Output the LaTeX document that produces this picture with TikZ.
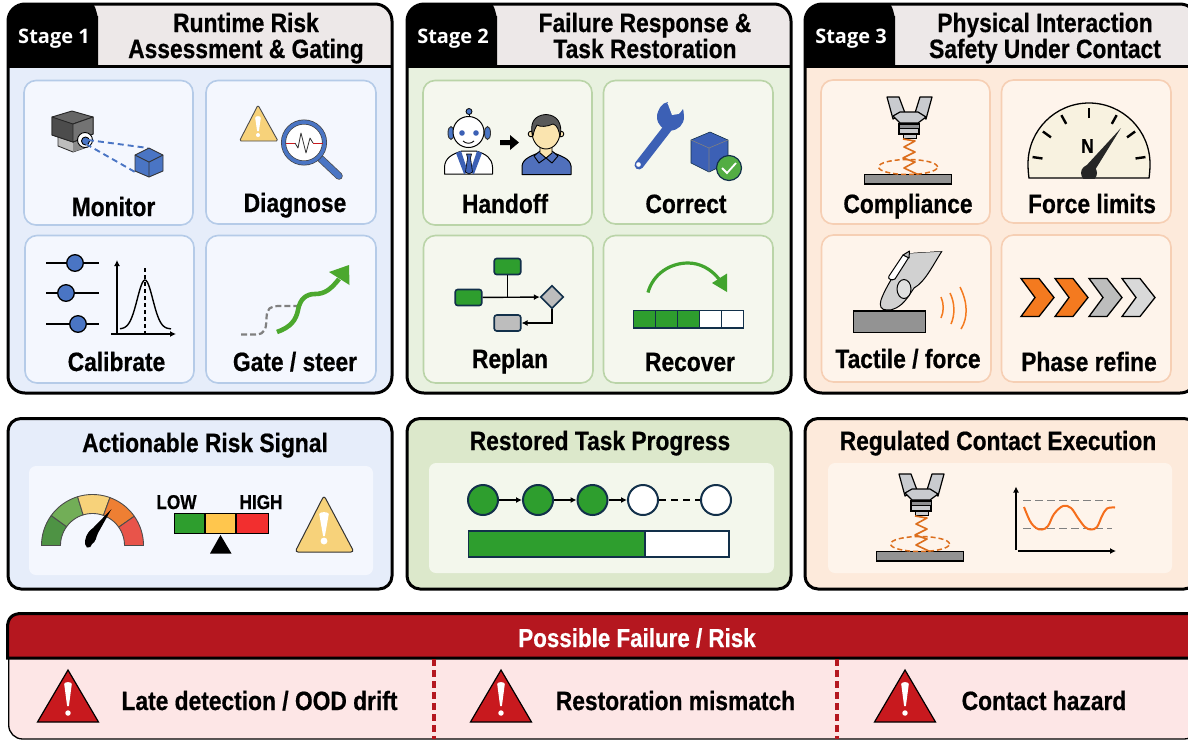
\documentclass[tikz,border=0pt]{standalone}
\usepackage{fontspec}
\setmainfont{Liberation Sans}[BoldFeatures={FakeStretch=0.86,FakeBold=0.55}]
\newfontfamily\stagefont{Open Sans}
\usetikzlibrary{arrows.meta,calc,shapes.geometric}
\definecolor{pblue}{HTML}{E6EDFA}\definecolor{cblue}{HTML}{F4F7FE}\definecolor{bblue}{HTML}{B5CBE8}
\definecolor{pgreen}{HTML}{E8F1DF}\definecolor{cgreen}{HTML}{F5F7EE}\definecolor{bgreen}{HTML}{BAD4A8}
\definecolor{porange}{HTML}{FDEADB}\definecolor{corange}{HTML}{FEF4EB}\definecolor{borange}{HTML}{F6CFB4}
\definecolor{mgreen}{HTML}{DCE8CB}\definecolor{igreen}{HTML}{F3F7EC}
\definecolor{hdr}{HTML}{EDE8E8}\definecolor{dred}{HTML}{B5171F}\definecolor{lred}{HTML}{FDE6E6}\definecolor{tred}{HTML}{C8191E}
\definecolor{ublue}{HTML}{4A75C4}\definecolor{wblue}{HTML}{3C60B5}\definecolor{ugreen}{HTML}{2E9E2E}\definecolor{agreen}{HTML}{4CA82E}
\definecolor{warn}{HTML}{F7D27A}\definecolor{navy}{HTML}{12304A}\definecolor{uorange}{HTML}{F47A1F}\definecolor{sgray}{HTML}{BDBDBD}
\definecolor{grip}{HTML}{C9CBCF}\definecolor{plate}{HTML}{939393}\definecolor{dial}{HTML}{F8F2E0}
\tikzset{
 lbl/.style={font=\fontsize{26.5}{28}\selectfont\bfseries,anchor=base,inner sep=0pt,text=black},
 ttl/.style={font=\fontsize{26.5}{28}\selectfont\bfseries,anchor=base,inner sep=0pt,text=black},
 stg/.style={font=\fontsize{20}{22}\selectfont\stagefont\bfseries,text=white,inner sep=0pt,anchor=base},
 card/.style={rounded corners=12pt,line width=1.6pt},
 flowbox/.style={draw=navy,line width=1.6pt,rounded corners=2.5pt,minimum width=26pt,minimum height=16pt,inner sep=0pt},
 stepdot/.style={circle,draw=navy,line width=2pt,minimum size=30pt,inner sep=0pt},
 flowarrow/.style={-{Latex[length=6pt,width=6pt]},line width=1.4pt,black},
}
\newcommand{\stagepanel}[7]{% x, width, num, line1, line2, fill, title offset
 \fill[#6,rounded corners=17pt] (#1,4) rectangle ++(#2,389);
 \begin{scope}
  \clip[rounded corners=17pt] (#1,4) rectangle ++(#2,389);
  \fill[hdr] (#1,4) rectangle ++(#2,62);
  \fill[black] (#1,2) -- ($(#1,2)+(82,0)$) to[out=0,in=-90] ($(#1,2)+(90,14)$) -- ($(#1,2)+(90,64)$) -- ($(#1,2)+(0,64)$) -- cycle;
 \end{scope}
 \draw[black,line width=3pt] (#1,66) -- ++(#2,0);
 \draw[black,line width=3pt,rounded corners=17pt] (#1,4) rectangle ++(#2,389);
 \node[stg] (stage#3) at ($(#1,43.5)+(46,0)$) {Stage #3};
 \node[ttl] (title#3a) at ($(#1,32)+(#7,0)$) {#4};
 \node[ttl] (title#3b) at ($(#1,58)+(#7,0)$) {#5};
}
\newcommand{\cardbox}[6]{\draw[card,draw=#6,fill=#5] (#1,#2) rectangle (#3,#4);}
\newcommand{\excl}[5]{% x, top, bottom of bar, dot y, halfwidth; white
 \fill[white] (#1-#5,#2+1) .. controls (#1-#5,#2-1.5) and (#1+#5,#2-1.5) .. (#1+#5,#2+1) -- (#1+.9,#3) -- (#1-.9,#3) -- cycle;
 \fill[white] (#1,#4) circle ({#5*.72});
}
\newcommand{\contacticon}[2]{%
 \begin{scope}[shift={(#1,#2)}]
  \draw[black,line width=1.2pt,fill=grip,line join=round] (887,97) -- (899,97) -- (905,113) -- (893,119) -- cycle;
  \draw[black,line width=1.2pt,fill=grip,line join=round] (932,97) -- (920,97) -- (915,113) -- (926,119) -- cycle;
  \draw[black,line width=1.2pt,fill=grip,line join=round] (893,116) -- (900,112) -- (918,112) -- (926,117) -- (918,123) -- (900,123) -- cycle;
  \draw[black,line width=1.2pt,fill=grip] (899,124) rectangle (919,134);
  \draw[black,line width=1pt,fill=grip!70!black] (899,124) rectangle (919,128);
  \draw[black,line width=1pt,fill=grip] (903,134) rectangle (916,138);
  \draw[black,line width=1.2pt,fill=plate] (864.5,174.5) rectangle (951.5,184);
  \draw[uorange!90!black,line width=1.5pt,dash pattern=on 5pt off 3pt] (908,167) ellipse (29.5pt and 7.5pt);
  \draw[uorange!90!black,line width=1.6pt,line join=round] (903,139) -- (915,141) -- (904,147) -- (915,152) -- (903,158) -- (915,162) -- (904,168) -- (918,174.5);
 \end{scope}}
\begin{document}
\begin{tikzpicture}[x=1pt,y=-1pt,line cap=butt]
\useasboundingbox (0,0) rectangle (1188,740);
\clip (0,0) rectangle (1188,740);
\fill[white] (0,0) rectangle (1188,740);
% ===== stage panels
\stagepanel{8}{384}{1}{Runtime Risk}{Assessment \& Gating}{pblue}{238}
\stagepanel{407}{384}{2}{Failure Response \&}{Task Restoration}{pgreen}{238}
\stagepanel{805}{392}{3}{Physical Interaction}{Safety Under Contact}{porange}{240}
% cards
\cardbox{24}{80.5}{193}{225}{cblue}{bblue}\cardbox{206}{80.5}{376}{224}{cblue}{bblue}
\cardbox{25}{235.5}{194}{383}{cblue}{bblue}\cardbox{206}{235.5}{376}{383}{cblue}{bblue}
\cardbox{423}{80.5}{592}{225}{cgreen}{bgreen}\cardbox{603.5}{80.5}{773}{224}{cgreen}{bgreen}
\cardbox{423.5}{235.5}{593}{383}{cgreen}{bgreen}\cardbox{603.5}{235.5}{773}{383}{cgreen}{bgreen}
\cardbox{821}{80}{990}{224}{corange}{borange}\cardbox{1001.5}{80}{1171}{223}{corange}{borange}
\cardbox{821.5}{235}{991}{382}{corange}{borange}\cardbox{1001.5}{235}{1171}{382}{corange}{borange}
% card labels
\node[lbl] (monitor) at (113.5,216) {Monitor};
\node[lbl] (diagnose) at (295,212) {Diagnose};
\node[lbl] (calibrate) at (116.5,371) {Calibrate};
\node[lbl] (gate) at (295,371) {Gate / steer};
\node[lbl] (handoff) at (505,213) {Handoff};
\node[lbl] (correct) at (686,213) {Correct};
\node[lbl] (replan) at (510,368) {Replan};
\node[lbl] (recover) at (690,371) {Recover};
\node[lbl] (compliance) at (908,213) {Compliance};
\node[lbl] (forcelimits) at (1092,213) {Force limits};
\node[lbl] (tactile) at (908,368) {Tactile / force};
\node[lbl] (phaserefine) at (1089,371) {Phase refine};
% ----- Monitor
\draw[black!80,line width=.9pt,fill=sgray] (58,135) -- (58,146) -- (73,152) -- (90,146) -- (90,135) -- cycle;
\fill[black!45,line join=round] (73,140) -- (73,152) -- (90,146) -- (90,135) -- cycle;
\draw[black!85,line width=.9pt,fill=black!60,line join=round] (52,117) -- (72,111) -- (93,117) -- (93,134) -- (73,142) -- (52,135) -- cycle;
\draw[black!85,line width=.9pt,fill=black!70,line join=round] (52,117) -- (73,124) -- (93,117) -- (93,134) -- (73,142) -- (52,135) -- cycle;
\draw[black!85,line width=.9pt,fill=black!55,line join=round] (73,124) -- (93,117) -- (93,134) -- (73,142) -- cycle;
\draw[black,line width=.9pt,fill=white] (85,140) circle (7.5pt);
\draw[black,line width=.9pt,fill=ublue] (85.5,141) circle (4pt);
\draw[ublue,line width=1.9pt,dash pattern=on 6pt off 4pt] (88,140) -- (148,148);
\draw[ublue,line width=1.9pt,dash pattern=on 6pt off 4pt] (86,144) -- (135,172);
\draw[black!80,line width=.9pt,fill=ublue,line join=round] (135,155) -- (149,148) -- (163,155) -- (163,171) -- (149,177) -- (135,171) -- cycle;
\draw[black!80,line width=.9pt] (135,155) -- (149,162) -- (163,155) (149,162) -- (149,177);
% ----- Diagnose
\draw[black!70,line width=.9pt,fill=warn,line join=round,rounded corners=1.5pt] (258,105) -- (278,141) -- (239.5,141) -- cycle;
\excl{258}{117}{131}{135}{2.8}
\draw[black!70,line width=7.5pt,line cap=round] (321,159) -- (339,176);
\draw[ublue,line width=6pt,line cap=round] (321,159) -- (339,176);
\draw[black!75,line width=5pt,fill=white] (304,142.5) circle (20.5pt);
\draw[ublue,line width=3.6pt] (304,142.5) circle (20.5pt);
\draw[tred,line width=.9pt] (286,143) -- (295,143) (313,143) -- (323,143);
\draw[black!80,line width=.8pt,line join=round] (295,143) -- (298,148) -- (301,133) -- (306,153) -- (310,138) -- (313,143);
% ----- Calibrate
\foreach \yy/\xx in {263/75,293/66,324/78}{
 \draw[black,line width=1.4pt] (46,\yy) -- (99,\yy);
 \draw[black,line width=1.3pt,fill=ublue] (\xx,\yy) circle (8.3pt);
}
\draw[black,line width=1.4pt,-{Latex[length=6pt,width=6pt]}] (117,334) -- (117,260);
\draw[black,line width=1.4pt,-{Latex[length=6pt,width=6pt]}] (111,334) -- (176,334);
\draw[black,line width=1.4pt] plot[domain=120:171,samples=40,smooth] (\x,{329-49*exp(-((\x-145)/11)^2)});
\draw[black,line width=1.4pt,dash pattern=on 4pt off 3pt] (145,268) -- (145,334);
% ----- Gate
\draw[black!50,line width=2.2pt,dash pattern=on 6pt off 3pt] (241,334.5) -- (255,334.5) .. controls (266,334.5) and (266,328) .. (266.5,318) .. controls (267,308) and (270,306) .. (280,306) -- (298,306);
\draw[agreen,line width=4.6pt] (277,332) .. controls (291,327) and (296,320) .. (298,310) .. controls (300,299) and (306,294) .. (315,294) .. controls (325,294) and (331,289) .. (339,279);
\fill[agreen] (329,272) -- (349,265) -- (349.5,285) -- cycle;
% ----- Handoff
\draw[black!80,line width=.9pt,fill=ublue] (451,133) ellipse (3pt and 6.5pt);
\draw[black!80,line width=.9pt,fill=ublue] (487.5,133) ellipse (3pt and 6.5pt);
\draw[black,line width=.9pt] (469,113) -- (469,118);
\draw[black,line width=.8pt,fill=ublue] (469,111.5) circle (3pt);
\draw[black,line width=1pt,fill=white,line join=round] (444.5,174) -- (444.5,167) .. controls (445,158) and (452,154) .. (462,151) -- (476,151) .. controls (486,154) and (492,158) .. (492.5,167) -- (492.5,174) -- cycle;
\fill[wblue] (456,153) -- (461,151) -- (468,172) -- (464,174) -- cycle;
\fill[wblue] (482,153) -- (477,151) -- (470,172) -- (474,174) -- cycle;
\draw[black,line width=.6pt,fill=wblue,line join=round] (466.5,154) -- (471.5,154) -- (470.5,158) -- (472.5,172) -- (469,174) -- (465.5,172) -- (467.5,158) -- cycle;
\draw[black,line width=1pt,fill=white] (468.5,132) circle (15.5pt);
\fill[wblue] (462,133) circle (2.8pt) (476,133) circle (2.8pt);
\draw[black,line width=.9pt] (463,141) .. controls (466,144) and (471,144) .. (474,141);
\fill[black] (500,140) -- (510,140) -- (510,135) -- (519,142.5) -- (510,150) -- (510,145) -- (500,145) -- cycle;
\draw[black,line width=1pt,fill=wblue!90!white,line join=round] (522,174.5) -- (522,166) .. controls (523,158) and (532,156) .. (540,152) -- (552,152) .. controls (560,156) and (570,158) .. (571,166) -- (571,174.5) -- cycle;
\draw[black,line width=.9pt,fill=wblue!90!white,line join=round] (540,151) -- (546,158) -- (552,151) -- (558,156) -- (552,163) -- (546,158) -- (539,163) -- (534,156) -- cycle;
\draw[black,line width=.9pt,fill=warn!60!white] (540,145) -- (540,153) -- (546,158) -- (552,153) -- (552,145) -- cycle;
\draw[black,line width=.9pt,fill=warn!60!white] (531,134) circle (2.8pt) (561,134) circle (2.8pt);
\draw[black,line width=.9pt,fill=warn!60!white] (546,132) ellipse (14pt and 17pt);
\draw[black,line width=.8pt,fill=black!65,line join=round] (533,136) .. controls (529,124) and (534,115) .. (546,114.5) .. controls (557,115) and (563,123) .. (560,137) .. controls (559,130) and (557,125) .. (553,124) .. controls (547,127) and (540,127) .. (537,125) .. controls (535,128) and (534,131) .. (533,136) -- cycle;
% ----- Correct
\draw[wblue,line width=9pt,line cap=round] (639,165) -- (670,125);
\fill[wblue] (670.5,117) circle (13.5pt);
\fill[cgreen] (672,115) -- (666,99) -- (690,105) -- (685,113) -- cycle;
\fill[wblue] (657,118) .. controls (658,108) and (662,103) .. (668,102) .. controls (665,107) and (665,112) .. (671,117) -- (663,128) -- cycle;
\fill[wblue] (672,117) .. controls (677,116) and (680,114) .. (683,109) .. controls (686,118) and (680,128) .. (670,129) -- cycle;
\draw[white,line width=.1pt,fill=white] (638.5,164.5) circle (2.2pt);
\draw[navy,line width=.6pt,fill=wblue,line join=round] (691,140) -- (710,132) -- (728,140) -- (728,163) -- (709,172) -- (691,163) -- cycle;
\draw[black!50,line width=.6pt] (691,140) -- (709,148) -- (728,140) (709,148) -- (709,172);
\draw[navy,line width=1.2pt,fill=agreen!60!ugreen!90!white] (729,168) circle (12.5pt);
\draw[white,line width=1.8pt] (722,168) -- (727,173) -- (736,163);
% ----- Replan
\node[flowbox,fill=ugreen,minimum width=26.5pt] (rp1) at (507.5,266.5) {};
\node[flowbox,fill=ugreen,minimum width=26.5pt] (rp2) at (468.5,297.5) {};
\node[diamond,draw=navy,line width=1.6pt,fill=sgray,minimum size=23pt,inner sep=0pt] (rp3) at (552,297) {};
\node[flowbox,fill=sgray,minimum width=26.5pt] (rp4) at (507.5,323) {};
\draw[flowarrow] (rp2) -- (rp3);
\draw[line width=1.4pt,black] (rp1) -- (rp1|-rp2);
\draw[flowarrow] (rp3) |- (rp4);
% ----- Recover
\draw[agreen!65!ugreen,line width=3.2pt] (648,292.5) .. controls (653,274) and (670,263) .. (688,263) .. controls (700,263) and (711,269) .. (719,279);
\fill[agreen!65!ugreen] (712,283) -- (727,273.5) -- (727,292) -- cycle;
\foreach \cx/\cc in {633.5/ugreen,655.5/ugreen,677.5/ugreen,699.5/white,721.5/white}{
 \draw[navy,line width=1.6pt,fill=\cc] (\cx,310.5) rectangle ++(22,17.5);
}
% ----- Compliance
\contacticon{0}{0}
% ----- Force limits
\draw[black,line width=1.3pt,fill=dial] (1029,178) .. controls (1029,178) and (1028,172) .. (1028,164) arc[x radius=61,y radius=-61,start angle=180,end angle=0] .. controls (1150,172) and (1149,178) .. (1149,178) -- cycle;
\foreach \a in {172,144,119,90,61,36,8}{
 \draw[black,line width=2.4pt] ({1089+47*cos(\a)},{165-47*sin(\a)}) -- ({1089+57*cos(\a)},{165-57*sin(\a)});
}
\node[font=\fontsize{20}{21}\selectfont\bfseries,inner sep=0pt] (fn) at (1087.5,146) {N};
\fill[black!85] (1085,167) -- (1121,128) -- (1095,170) -- cycle;
\begin{scope}
 \clip (1070,160) rectangle (1110,178);
 \fill[black!85] (1089,173) circle (8pt);
\end{scope}
% ----- Tactile
\draw[black,line width=1.3pt,fill=plate] (853.5,311) rectangle (925.5,332.5);
\draw[black,line width=1pt,fill=black!18,line join=round] (887,310) .. controls (881,310) and (879,306) .. (881,300) .. controls (886,286) and (897,270) .. (909,253) -- (942,251) .. controls (933,265) and (925,282) .. (914,288) .. controls (908,297) and (904,304) .. (896,308) .. controls (893,310) and (890,310) .. (887,310) -- cycle;
\fill[corange] (905,250) -- (946,248) -- (942,251) -- (909,253) -- cycle;
\draw[black,line width=1pt,fill=black!12] (904,289) ellipse (7pt and 9.5pt);
\draw[black,line width=1pt,fill=white,line join=round] (889,276) -- (903,255) -- (909,257) -- (895,279) .. controls (892,281) and (887,279) .. (889,276) -- cycle;
\draw[black,line width=1pt,fill=black!25,line join=round] (903,255) -- (909.5,251) -- (909,258) -- cycle;
\draw[uorange,line width=1.5pt] (941,297) .. controls (944,304) and (944,311) .. (941,318);
\draw[uorange,line width=1.5pt] (950,293) .. controls (955,303) and (955,315) .. (951,324);
\draw[uorange,line width=1.5pt] (960,287) .. controls (968,303) and (968,318) .. (961,329);
% ----- Phase refine
\foreach \dx/\cc in {0/uorange,34/uorange,68/sgray,101/black!15}{
 \draw[black,line width=1.3pt,fill=\cc,line join=miter,shift={(\dx,0)}] (1021,278.5) -- (1039,278.5) -- (1054,297.5) -- (1039,316.5) -- (1021,316.5) -- (1035,297.5) -- cycle;
}
% ===== outcome panels
\foreach \px/\pw/\pc/\ix/\iy/\iw/\ih/\ic in {8/384/pblue/29/466/344/109/cblue,407/384/mgreen/429/463/345/110/igreen,805/392/porange/828/463/344/110/corange}{
 \draw[black,line width=3pt,fill=\pc,rounded corners=13pt] (\px,418.5) rectangle ++(\pw,170.5);
 \fill[\ic,rounded corners=7pt] (\ix,\iy) rectangle ++(\iw,\ih);
}
\node[ttl] (out1) at (205,452) {Actionable Risk Signal};
\node[ttl] (out2) at (600,450) {Restored Task Progress};
\node[ttl] (out3) at (998,450) {Regulated Contact Execution};
% gauge
\foreach \aa/\ab/\cc in {180/144/4E9344,144/107/72AE57,107/70/F7D27A,70/35/EE7F33,35/0/E8544A}{
 \definecolor{segc}{HTML}{\cc}
 \draw[black!70,line width=.9pt,fill=segc,line join=round] plot[domain=\aa:\ab,samples=16] ({92.5+51*cos(\x)},{545.5-51*sin(\x)}) -- plot[domain=\ab:\aa,samples=16] ({92.5+32*cos(\x)},{545.5-32*sin(\x)}) -- cycle;
}
\fill[black] (85,541) .. controls (86,534) and (90,530) .. (93,528) -- (111.5,509) -- (98,533) .. controls (96,537) and (96,542) .. (92,544) .. controls (92,547) and (89,548) .. (87,547.5) .. controls (85,546) and (85,543) .. (85,541) -- cycle;
% scale
\node[font=\fontsize{20}{22}\selectfont\bfseries,inner sep=0pt,anchor=base] (low) at (176.5,509) {LOW};
\node[font=\fontsize{20}{22}\selectfont\bfseries,inner sep=0pt,anchor=base] (high) at (261,509) {HIGH};
\definecolor{baryel}{HTML}{FFC64D}
\draw[black,line width=1.9pt,fill=ugreen] (174.5,513.5) rectangle (205,533.5);
\draw[black,line width=1.9pt,fill=baryel] (205,513.5) rectangle (236,533.5);
\definecolor{barred}{HTML}{F22F2F}
\draw[black,line width=1.9pt,fill=barred] (236,513.5) rectangle (268.5,533.5);
\fill[black] (220.5,535) -- (231.5,553.5) -- (210,553.5) -- cycle;
% warn
\draw[black!80,line width=1pt,fill=warn,line join=round,rounded corners=3pt] (324,495.5) -- (354,552) -- (295,552) -- cycle;
\excl{324}{513}{536}{541}{4.8}
% restored steps
\node[stepdot,fill=ugreen] (s1) at (483,500) {};
\node[stepdot,fill=ugreen] (s2) at (538,500) {};
\node[stepdot,fill=ugreen] (s3) at (592.5,500) {};
\node[stepdot,fill=white] (s4) at (643,500) {};
\node[stepdot,fill=white] (s5) at (716,500) {};
\draw[flowarrow] (s1) -- (s2);
\draw[flowarrow] (s2) -- (s3);
\draw[flowarrow] (s3) -- (s4);
\draw[black,line width=1.4pt,dash pattern=on 7pt off 5pt] (s4) -- (s5);
\draw[navy,line width=1.9pt,fill=ugreen] (468.5,531) rectangle (645,557);
\draw[navy,line width=1.9pt,fill=white] (645,531) rectangle (729,557);
% regulated
\contacticon{12}{377}
\draw[black,line width=1.4pt,-{Latex[length=6pt,width=6pt]}] (1016,550) -- (1016,486.5);
\draw[black,line width=1.4pt,-{Latex[length=6pt,width=6pt]}] (1017.5,551) -- (1116,551);
\draw[black!50,line width=1.9pt,dash pattern=on 8pt off 4pt] (1023,500.5) -- (1112,500.5);
\draw[black!50,line width=1.9pt,dash pattern=on 8pt off 4pt] (1023,528.5) -- (1112,528.5);
\draw[uorange!90!red,line width=2pt] plot[smooth,tension=.6] coordinates {(1024,507) (1030,521) (1036,528) (1042,529.5) (1048,526) (1054,514) (1063,506) (1071,508) (1078,518) (1085,527) (1091,529.5) (1097,527) (1102,516) (1107,508.5) (1115,507.5)};
% ===== failure band
\fill[lred,rounded corners=14pt] (8.7,640) rectangle (1198,739);
\draw[black,line width=1.3pt,rounded corners=14pt] (8.7,640) rectangle (1198,739);
\draw[black,line width=3pt,fill=dred] (7.5,658) -- (7.5,628) .. controls (7.5,618) and (12,613.5) .. (22,613.5) -- (1198,613.5) -- (1198,658) -- cycle;
\node[ttl,text=white,font=\fontsize{26}{28}\selectfont\bfseries] (risk) at (637,647) {Possible Failure / Risk};
\draw[dred,line width=3.2pt,dash pattern=on 7pt off 4pt] (434,659) -- (434,739);
\draw[dred,line width=3.2pt,dash pattern=on 7pt off 4pt] (837,659) -- (837,739);
\foreach \tx in {68,501,905}{
 \draw[black,line width=1.2pt,fill=tred,line join=miter] (\tx,670) -- (\tx+30.5,722) -- (\tx-30.5,722) -- cycle;
 \excl{\tx}{683}{706}{713}{3.8}
}
\node[lbl] (f1) at (259.5,710) {Late detection / OOD drift};
\node[lbl] (f2) at (675.5,710) {Restoration mismatch};
\node[lbl] (f3) at (1044,710) {Contact hazard};
\end{tikzpicture}
\end{document}
